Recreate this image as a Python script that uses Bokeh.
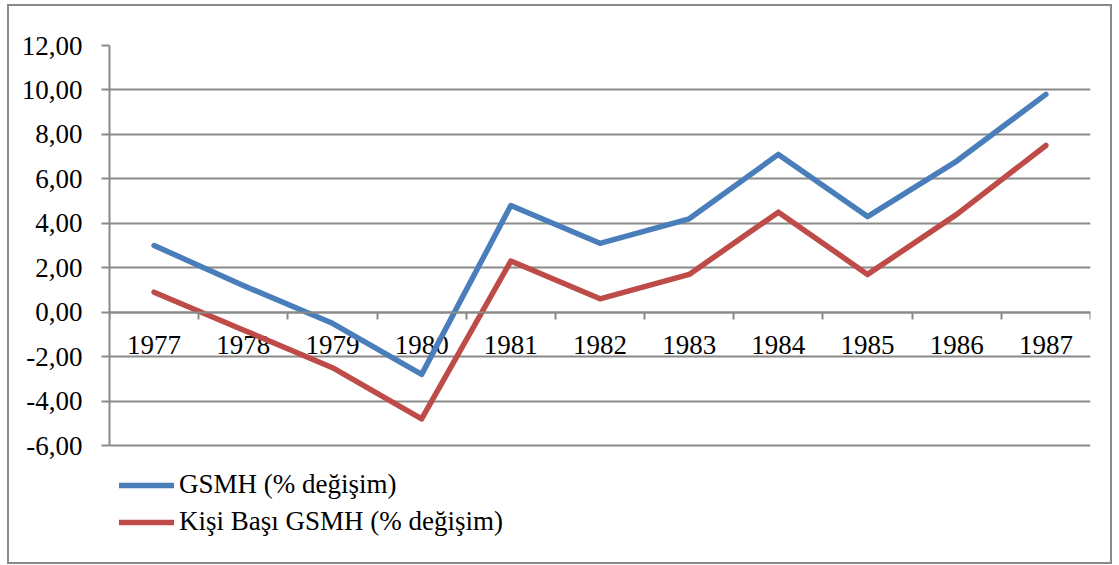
from bokeh.plotting import figure
from bokeh.models import (FixedTicker, LinearAxis, Range1d, Legend, LegendItem, Grid, ColumnDataSource)
from bokeh.core.properties import value
from bokeh.embed import file_html
from bokeh.resources import INLINE

# ---- data ----
years = ["1977", "1978", "1979", "1980", "1981", "1982", "1983", "1984", "1985", "1986", "1987"]
gsmh = [3.0, 1.2, -0.5, -2.8, 4.8, 3.1, 4.2, 7.1, 4.3, 6.8, 9.8]
kisi_basi = [0.9, -0.8, -2.5, -4.8, 2.3, 0.6, 1.7, 4.5, 1.7, 4.4, 7.5]
y_ticks = [-6, -4, -2, 0, 2, 4, 6, 8, 10, 12]
y_tick_labels = ["-6,00", "-4,00", "-2,00", "0,00", "2,00", "4,00", "6,00", "8,00", "10,00", "12,00"]
series_names = ["GSMH (% değişim)", "Kişi Başı GSMH (% değişim)"]
series_colors = ["#4A7EBB", "#BE4B48"]

FONT = "Liberation Serif"
FS = "27px"
GRID = "#8a8a8a"

n = len(years)
xs = [i + 0.5 for i in range(n)]

# frame extends below the value axis so the legend can sit inside it
FRAME_H = 503
px_per_unit = 400 / (max(y_ticks) - min(y_ticks))
y_low = max(y_ticks) - FRAME_H / px_per_unit

p = figure(frame_width=981, frame_height=FRAME_H, output_backend="svg", toolbar_location=None,
           x_range=Range1d(0, n), y_range=Range1d(y_low, max(y_ticks)),
           min_border_left=100, min_border_right=20, min_border_top=39, min_border_bottom=14,
           x_axis_type=None, y_axis_type=None)
p.styles = {"border": "2px solid #8a8a8a", "margin-left": "7px", "margin-top": "4px"}
p.outline_line_color = None
p.background_fill_color = "white"
p.border_fill_color = "white"

# horizontal gridlines
p.add_layout(Grid(dimension=1, ticker=FixedTicker(ticks=y_ticks),
                  grid_line_color=GRID, grid_line_width=2))

# y axis (line limited to the value range)
yax = LinearAxis(ticker=FixedTicker(ticks=y_ticks), bounds=(min(y_ticks), max(y_ticks)))
yax.major_label_overrides = {t: l for t, l in zip(y_ticks, y_tick_labels)}
yax.major_label_text_font = FONT
yax.major_label_text_font_size = FS
yax.major_label_text_color = "black"
yax.major_label_standoff = 19
yax.major_tick_out = 8
yax.major_tick_in = 0
yax.major_tick_line_color = GRID
yax.major_tick_line_width = 2
yax.minor_tick_line_color = None
yax.axis_line_color = GRID
yax.axis_line_width = 2
p.add_layout(yax, "left")

# x axis at y=0 with ticks on category boundaries
bounds = list(range(n + 1))
xax = LinearAxis(ticker=FixedTicker(ticks=bounds), fixed_location=0)
xax.major_label_overrides = {b: "" for b in bounds}
xax.major_label_text_font_size = "0px"
xax.major_label_standoff = 0
xax.major_tick_out = 7
xax.major_tick_in = 0
xax.major_tick_line_color = GRID
xax.major_tick_line_width = 2
xax.minor_tick_line_color = None
xax.axis_line_color = GRID
xax.axis_line_width = 2
p.add_layout(xax, "below")

# category labels just under the zero line
src = ColumnDataSource(dict(x=xs, y=[0] * n, year=years))
p.text(x="x", y="y", text="year", source=src, text_align="center", text_baseline="middle",
       y_offset=33, text_font=value(FONT), text_font_size=FS, text_color="black")

r1 = p.line(xs, gsmh, line_color=series_colors[0], line_width=5.5, line_cap="round", line_join="round")
r2 = p.line(xs, kisi_basi, line_color=series_colors[1], line_width=5.5, line_cap="round", line_join="round")

legend = Legend(items=[LegendItem(label=series_names[0], renderers=[r1]),
                       LegendItem(label=series_names[1], renderers=[r2])],
                location=(10, 11), orientation="vertical",
                glyph_width=55, glyph_height=30, label_height=30, spacing=6,
                label_standoff=5, padding=0, margin=0,
                label_text_font=FONT, label_text_font_size=FS, label_text_color="black",
                border_line_color=None, background_fill_alpha=0)
p.add_layout(legend, "center")

open("out.html", "w").write(file_html(p, INLINE))
